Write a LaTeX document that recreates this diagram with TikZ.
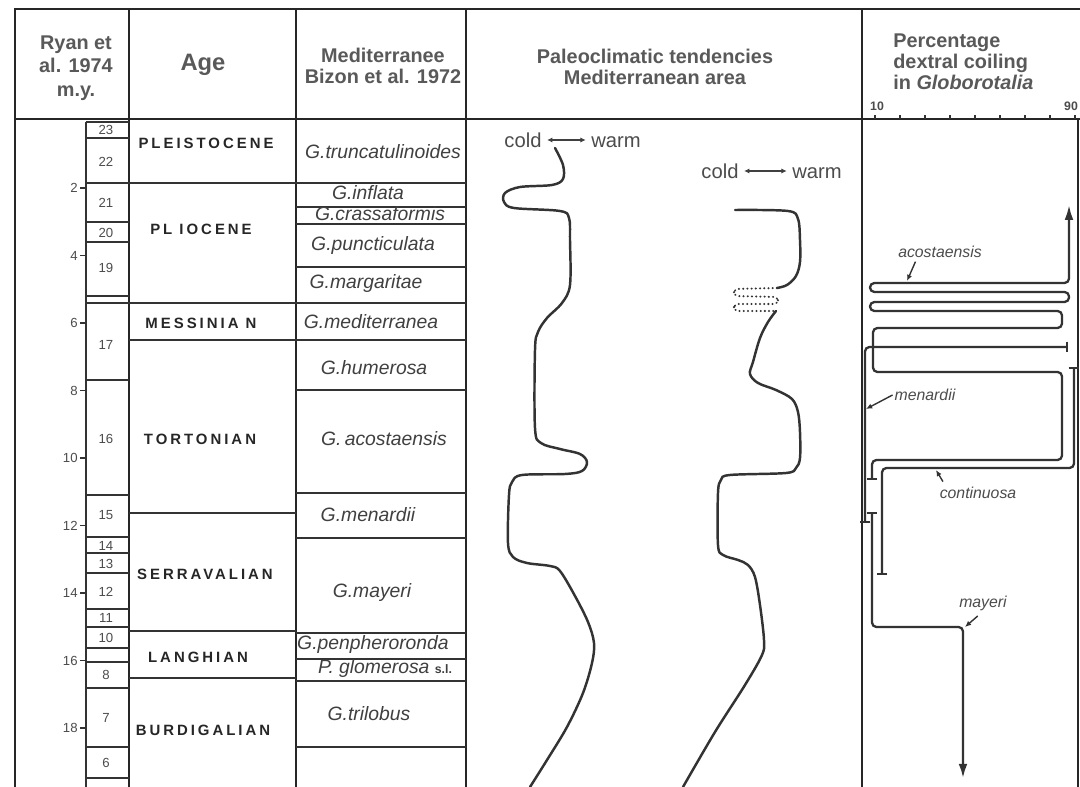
\documentclass[tikz,border=0pt]{standalone}
\usepackage{fontspec}
\setmainfont{Liberation Sans}
\newfontfamily\agefont[LetterSpace=20]{Liberation Sans}
\usetikzlibrary{arrows.meta}

\begin{document}
\begin{tikzpicture}[x=0.02cm, y=-0.02cm,
  gridline/.style = {draw=black!80, line width=0.8pt},
  border/.style = {draw=black!85, line width=1.3pt},
  headtext/.style = {text=black!65, font=\bfseries\fontsize{11.3}{12}\selectfont, align=center, inner sep=0pt},
  zonenum/.style = {text=black!70, font=\fontsize{7.5}{9}\selectfont, inner sep=0pt},
  stagename/.style = {text=black!85, font=\agefont\bfseries\fontsize{8.5}{9}\selectfont, inner sep=0pt},
  taxonname/.style = {text=black!75, font=\itshape\fontsize{11}{12}\selectfont, inner sep=0pt},
  trendline/.style = {draw=black!80, line width=1.4pt, line cap=round, line join=round},
  coilline/.style = {draw=black!80, line width=1.3pt, rounded corners=2.5pt},
  coiltag/.style = {text=black!70, font=\itshape\fontsize{9}{10}\selectfont, inner sep=0pt},
  tagptr/.style = {draw=black!80, line width=0.8pt, -{Latex[length=3.5pt,width=3pt]}},
  tempword/.style = {text=black!70, font=\fontsize{11.5}{12}\selectfont, inner sep=0pt, text height=8pt, text depth=0pt}]

\fill[white] (0,0) rectangle (1080,787);
\useasboundingbox (0,0) rectangle (1080,787);

% frame and columns
\draw[border] (1090,9) -- (15,9) -- (15,787);
\draw[border] (15,119) -- (1090,119);
\foreach \x in {129, 296, 466, 862}
  \draw[border] (\x,9) -- (\x,787);
\draw[border] (1078,119) -- (1078,787);

% zone boxes
\draw[gridline] (86,122) -- (86,787);
\foreach \y in {122,138,183,222,242,296,303,380,495,537,553,573,609,627,648,662,688,747,778}
  \draw[gridline] (86,\y) -- (129,\y);
\foreach \y/\n in {130/23,162/22,203/21,233/20,268/19,345/17,439/16,515/15,546/14,564/13,592/12,618/11,638/10,675/8,718/7,763/6}
  \node[zonenum] (zone\n) at (106,\y) {\n};

% m.y. scale
\foreach \t in {2,4,...,18} {
  \pgfmathsetmacro\yt{120.5+33.75*\t}
  \draw[gridline] (80,\yt) -- (86,\yt);
  \node[zonenum, anchor=east] (my\t) at (78,\yt) {\t};
}

% stage and zone boundaries
\foreach \y in {183,303,340,513,631,678}
  \draw[gridline] (129,\y) -- (296,\y);
\foreach \y in {183,207,224,267,303,340,390,493,538,633,659,681,747}
  \draw[gridline] (296,\y) -- (466,\y);

% header
\node[headtext, font=\bfseries\fontsize{11.3}{13.3}\selectfont] (ryan) at (76,68) {Ryan et\\al. 1974\\m.y.};
\node[headtext, font=\bfseries\fontsize{13.5}{14}\selectfont] (age) at (203,65) {Age};
\node[headtext] (bizon) at (383,66) {Mediterranee\\Bizon et al. 1972};
\node[headtext] (paleo) at (655,67) {Paleoclimatic tendencies\\Mediterranean area};
\node[headtext, align=left, anchor=west] (pct) at (893,62) {Percentage\\dextral coiling\\in \textit{Globorotalia}};
\node[zonenum, font=\bfseries\fontsize{7}{8}\selectfont] (p10) at (877,106) {10};
\node[zonenum, font=\bfseries\fontsize{7}{8}\selectfont] (p90) at (1071,106) {90};
\foreach \k in {0,...,8}
  \draw[gridline] (875+25*\k,119) -- (875+25*\k,115);

% stages
\node[stagename] (pleist) at (206,143) {PLEISTOCENE};
\node[stagename] (plio) at (201,229) {PL IOCENE};
\node[stagename] (mess) at (201,323) {MESSINIA N};
\node[stagename] (tort) at (200,439) {TORTONIAN};
\node[stagename] (serra) at (205,574) {SERRAVALIAN};
\node[stagename] (langh) at (198,657) {LANGHIAN};
\node[stagename] (burdi) at (203,730) {BURDIGALIAN};

% foraminifera zones
\node[taxonname] (truncat) at (383,152) {G.truncatulinoides};
\node[taxonname] (inflata) at (368,193) {G.inflata};
\node[taxonname] (crassa) at (380,214) {G.crassaformis};
\node[taxonname] (punct) at (373,246) {G.puncticulata};
\node[taxonname] (margar) at (366,284) {G.margaritae};
\node[taxonname] (medit) at (371,322) {G.mediterranea};
\node[taxonname] (humer) at (374,368) {G.humerosa};
\node[taxonname] (acost) at (384,439) {G.\,acostaensis};
\node[taxonname] (menard) at (368,515) {G.menardii};
\node[taxonname] (mayer) at (372,593) {G.mayeri};
\node[taxonname] (penph) at (373,645) {G.penpheroronda};
\node[taxonname] (glom) at (385,669) {P. glomerosa {\upshape\bfseries\fontsize{7}{8}\selectfont s.l.}};
\node[taxonname] (trilob) at (369,714) {G.trilobus};

% paleoclimatic curves
\node[tempword] (coldA) at (523,140) {cold};
\node[tempword] (warmA) at (616,140) {warm};
\draw[draw=black!75, line width=0.7pt, {Latex[length=3pt,width=3pt]}-{Latex[length=3pt,width=3pt]}, shorten <=3pt, shorten >=3pt] (coldA) -- (warmA);
\node[tempword] (coldB) at (720,171) {cold};
\node[tempword] (warmB) at (817,171) {warm};
\draw[draw=black!75, line width=0.7pt, {Latex[length=3pt,width=3pt]}-{Latex[length=3pt,width=3pt]}, shorten <=3pt, shorten >=3pt] (coldB) -- (warmB);

\draw[trendline] plot[smooth, tension=0.55] coordinates {(555,148) (563,165) (563,179) (552,185) (520,187) (505,193) (504,202) (514,208) (560,211) (569,218) (570,240) (570,285) (562,303) (547,318) (538,332) (535,350) (535,428) (541,443) (560,449) (580,454) (587,462) (582,471) (565,474) (522,475) (512,482) (509,495) (508,543) (513,557) (527,563) (550,566) (560,571) (575,596) (588,622) (594,643) (592,663) (583,693) (567,727) (547,760) (530,787)};
\draw[trendline] plot[smooth, tension=0.55] coordinates {(735,210) (788,211) (798,219) (800,240) (800,262) (796,276) (787,285) (777,288)};
\draw[trendline, line width=1.2pt, dash pattern=on 0.1pt off 2.3pt, rounded corners=2.5pt] (777,288) -- (734,289) -- (734,296) -- (778,297) -- (778,304) -- (734,304) -- (734,311) -- (776,311);
\draw[trendline] plot[smooth, tension=0.55] coordinates {(776,311) (768,322) (760,338) (753,362) (750,374) (758,383) (776,390) (792,399) (798,412) (800,432) (800,458) (796,468) (786,473) (730,475) (721,480) (718,493) (718,545) (723,555) (738,560) (748,565) (755,577) (760,605) (764,640) (762,655) (745,685) (715,732) (683,787)};

% dextral coiling
\draw[coilline, {Bar[width=6pt]}-{Latex[length=8.5pt,width=5pt]}] (872,480) -- (872,460) -- (1062,460) -- (1062,372) -- (873,372) -- (873,328) -- (1062,328) -- (1062,311) -- (870,311) -- (870,302) -- (1069,302) -- (1069,292) -- (870,292) -- (870,283) -- (1069,283) -- (1069,205);
\draw[coilline, {Bar[width=6pt]}-{Bar[width=6pt]}] (1068,347) -- (865,347) -- (865,523);
\draw[coilline, {Bar[width=6pt]}-{Bar[width=6pt]}] (1074,367) -- (1074,468) -- (882,468) -- (882,575);
\draw[coilline, {Bar[width=6pt]}-{Latex[length=8pt,width=5pt]}] (872,512) -- (872,627) -- (963,627) -- (963,778);

\node[coiltag] (acoTag) at (940,252) {acostaensis};
\node[coiltag] (menTag) at (925,395) {menardii};
\node[coiltag] (conTag) at (978,493) {continuosa};
\node[coiltag] (mayTag) at (983,603) {mayeri};
\coordinate (acoHit) at (907,281);
\coordinate (menHit) at (866,409);
\coordinate (conHit) at (936,470);
\coordinate (mayHit) at (965,627);
\draw[tagptr] ([xshift=10pt,yshift=-2pt]acoTag.south west) -- (acoHit);
\draw[tagptr] ([xshift=-1pt]menTag.west) -- (menHit);
\draw[tagptr] ([xshift=2pt,yshift=3pt]conTag.north west) -- (conHit);
\draw[tagptr] ([xshift=-3pt,yshift=-3pt]mayTag.south) -- (mayHit);
\end{tikzpicture}
\end{document}
